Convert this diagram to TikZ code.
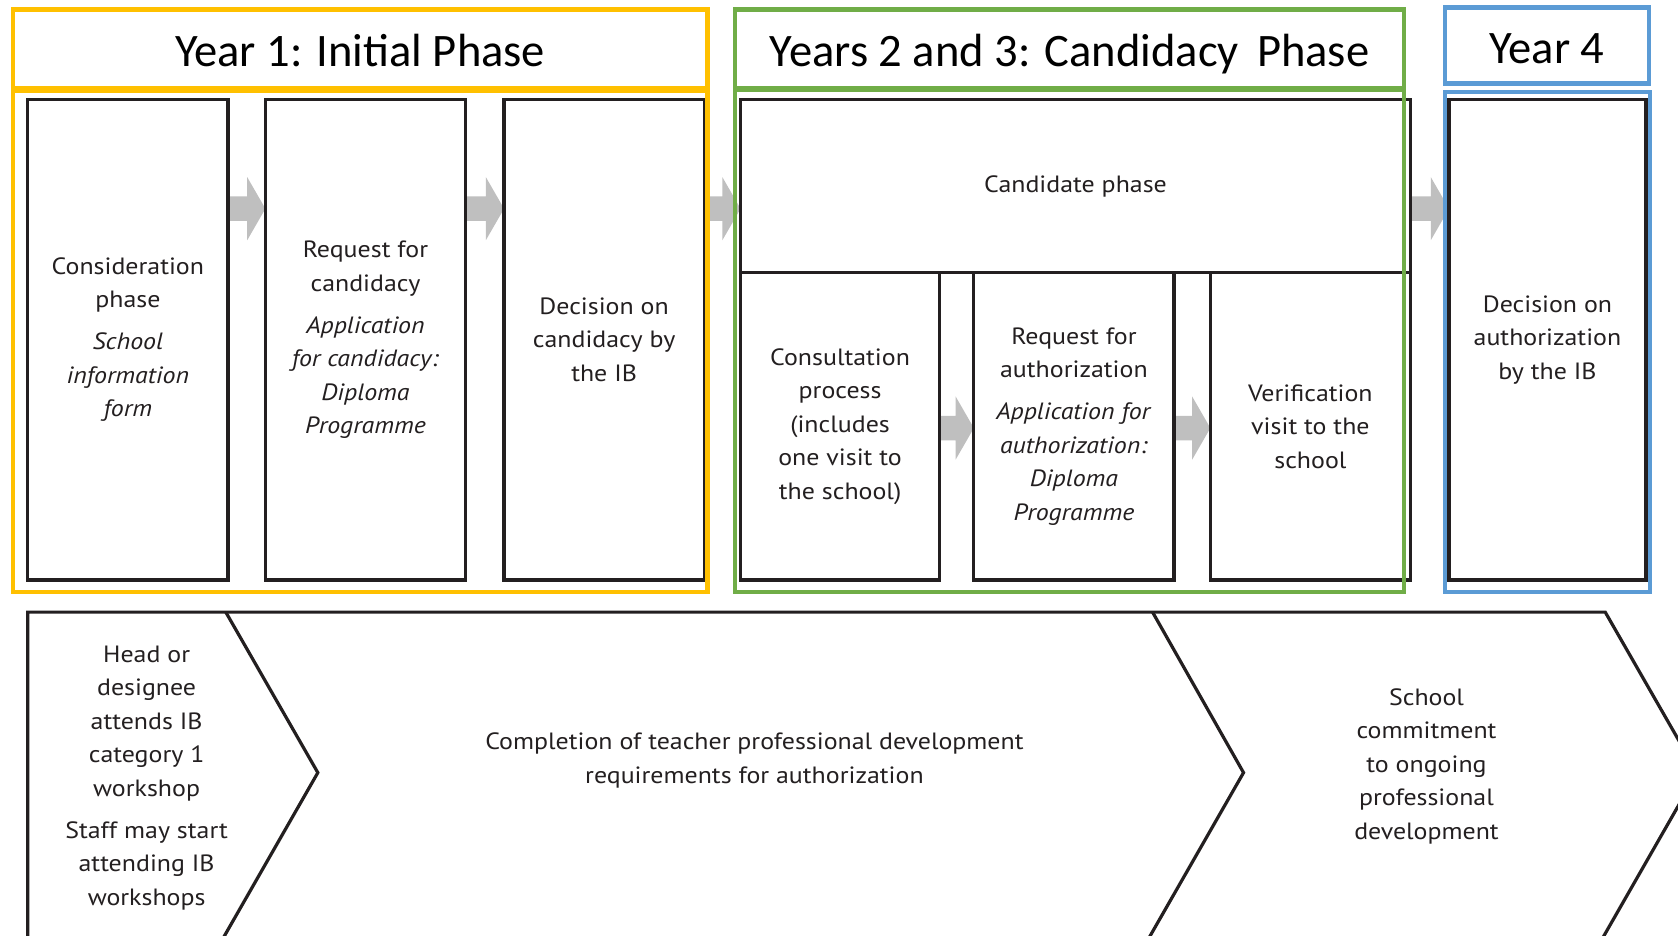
\documentclass[tikz,border=0pt]{standalone}
\usepackage{fontspec}
\setmainfont[FakeStretch=1.1]{PT Sans}
\newfontfamily\titlefont{Carlito}
\usetikzlibrary{calc}
\definecolor{ibyellow}{HTML}{FFC000}
\definecolor{ibgreen}{HTML}{70AD47}
\definecolor{ibblue}{HTML}{5B9BD5}
\definecolor{ibgray}{HTML}{BFBFBF}
\definecolor{ibblack}{HTML}{231F20}
\newcommand\grayarrow[3]{%
  \fill[ibgray] (#1,{#3-11.5}) -- ({#2-17},{#3-11.5}) -- ({#2-17},{#3-29.5}) -- (#2,#3)
    -- ({#2-17},{#3+29.5}) -- ({#2-17},{#3+11.5}) -- (#1,{#3+11.5}) -- cycle;}
\begin{document}
\begin{tikzpicture}[x=1pt,y=-1pt,
  stagebox/.style={draw=ibblack, line width=3pt, fill=white, inner sep=0pt, align=center,
    font=\fontsize{22}{31.3}\selectfont, text=ibblack},
  titlebox/.style={line width=4pt, inner sep=0pt, text height=38pt, text depth=5pt,
    font=\titlefont\fontsize{43.5}{50}\selectfont},
  frame/.style={line width=4pt},
  chev/.style={draw=ibblack, line width=3pt, line join=miter},
  chevtext/.style={align=center, font=\fontsize{22}{31.3}\selectfont, text=ibblack, inner sep=0pt}]
\useasboundingbox (0,0) rectangle (1568,874);
\clip (0,0) rectangle (1568,874);
% gray arrows
\grayarrow{205}{248}{195}
\grayarrow{428}{471}{195}
\grayarrow{655}{692}{195}
\grayarrow{1310}{1354}{195}
\grayarrow{870}{910}{400}
\grayarrow{1090}{1131}{400}
% stage boxes
\node[stagebox, minimum width=187, minimum height=449] (b1) at (119.5,317.5)
  {Consideration\\ phase\\[8pt] \textit{School}\\ \textit{information}\\ \textit{form}};
\node[stagebox, minimum width=187, minimum height=449] (b2) at (341.5,317.5)
  {Request for\\ candidacy\\[8pt] \textit{Application}\\ \textit{for candidacy:}\\ \textit{Diploma}\\ \textit{Programme}};
\node[stagebox, minimum width=187, minimum height=449] (b3) at (564.5,317.5)
  {Decision on\\ candidacy by\\ the IB};
\node[stagebox, minimum width=626, minimum height=162] (cand) at (1005,174) {Candidate phase};
\node[stagebox, minimum width=186, minimum height=287] (c1) at (785,398.5)
  {Consultation\\ process\\ (includes\\ one visit to\\ the school)};
\node[stagebox, minimum width=187, minimum height=287] (c2) at (1003.5,398.5)
  {Request for\\ authorization\\[8pt] \textit{Application for}\\ \textit{authorization:}\\ \textit{Diploma}\\ \textit{Programme}};
\node[stagebox, minimum width=187, minimum height=287] (c3) at (1224.5,398.5)
  {Verification\\ visit to the\\ school};
\node[stagebox, minimum width=184, minimum height=449] (y4) at (1446,317.5)
  {Decision on\\ authorization\\ by the IB};
% phase frames
\node[titlebox, draw=ibyellow, minimum width=649, minimum height=73] (t1) at (336.5,45.5) {Year 1: Initial Phase};
\draw[frame, ibyellow] (12,85) rectangle (661,553);
\node[titlebox, draw=ibgreen, minimum width=625, minimum height=73] (t2) at (999.5,45.5) {Years 2 and 3: Candidacy\, Phase};
\draw[frame, ibgreen] (687,84) rectangle (1312,553);
\node[titlebox, draw=ibblue, minimum width=191, minimum height=71] (t3) at (1445.5,42.5) {Year 4};
\draw[frame, ibblue] (1350,86) rectangle (1542,553);
% bottom chevrons
\draw[chev] (26,900) -- (26,572) -- (1500,572) -- (1586,722) -- (1483,902);
\draw[chev] (211,572) -- (297,722) -- (194,902);
\draw[chev] (1077,572) -- (1162,722) -- (1059,902);
\node[chevtext] (ch1) at (137,727)
  {Head or\\ designee\\ attends IB\\ category 1\\ workshop\\[8pt] Staff may start\\ attending IB\\ workshops};
\node[chevtext] (ch2) at (705,710.5)
  {Completion of teacher professional development\\ requirements for authorization};
\node[chevtext] (ch3) at (1333,716)
  {School\\ commitment\\ to ongoing\\ professional\\ development};
\end{tikzpicture}
\end{document}
